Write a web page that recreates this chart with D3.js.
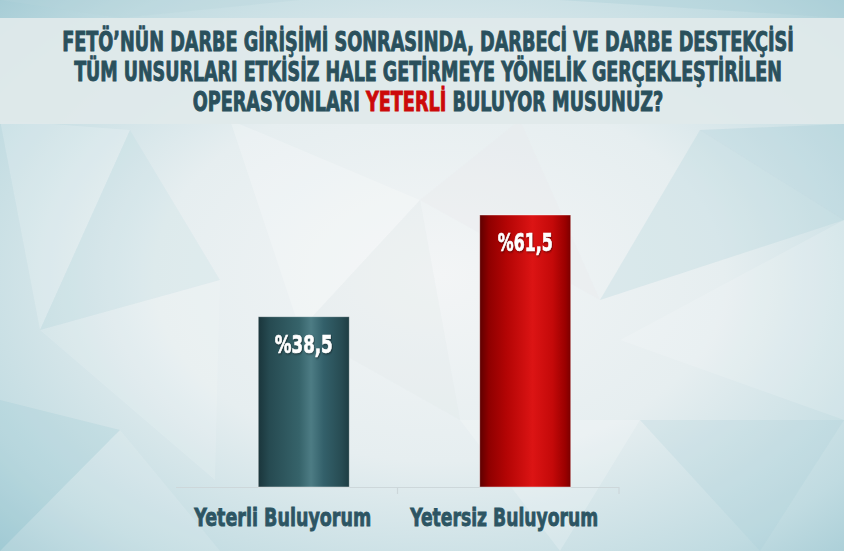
<!DOCTYPE html>
<html>
<head>
<meta charset="utf-8">
<script src="https://cdn.jsdelivr.net/npm/d3@7"></script>
<style>
  html, body { margin: 0; padding: 0; background: #dfe9ec; }
  svg { display: block; }
</style>
</head>
<body>
<svg id="chart" width="844" height="551"></svg>
<script>
// ---- data ----
const categories = ["Yeterli Buluyorum", "Yetersiz Buluyorum"];
const values = [38.5, 61.5];
const valueLabels = ["%38,5", "%61,5"];
const titleLines = [
  [{t: "FETÖ’NÜN DARBE GİRİŞİMİ SONRASINDA, DARBECİ VE DARBE DESTEKÇİSİ", red: false}],
  [{t: "TÜM UNSURLARI ETKİSİZ HALE GETİRMEYE YÖNELİK GERÇEKLEŞTİRİLEN", red: false}],
  [{t: "OPERASYONLARI ", red: false}, {t: "YETERLİ", red: true}, {t: " BULUYOR MUSUNUZ?", red: false}]
];

const W = 844, H = 551;
const svg = d3.select("#chart");
const defs = svg.append("defs");

// squeeze a text horizontally to a target width, centred on (cx, baseline)
function fitText(sel, cx, by, target) {
  const node = sel.node();
  sel.attr("x", 0).attr("y", 0).attr("text-anchor", "middle");
  const natural = node.getComputedTextLength();
  const sx = natural > 0 ? target / natural : 1;
  sel.attr("transform", `translate(${cx},${by}) scale(${sx},1)`);
}

// background gradient
const bg = defs.append("radialGradient").attr("id", "bg")
  .attr("cx", "0.52").attr("cy", "0.5").attr("r", "0.75");
bg.append("stop").attr("offset", "0").attr("stop-color", "#f3f5f6");
bg.append("stop").attr("offset", "0.45").attr("stop-color", "#e6eef0");
bg.append("stop").attr("offset", "0.8").attr("stop-color", "#c0dbe1");
bg.append("stop").attr("offset", "1").attr("stop-color", "#a0c9d3");
svg.append("rect").attr("width", W).attr("height", H).attr("fill", "url(#bg)");

// decorative low-poly facets (background only)
const facets = [
  {p: [[0,120],[130,130],[40,330]], c: "#ffffff", o: 0.18},
  {p: [[130,130],[220,280],[40,330]], c: "#9ccbd6", o: 0.12},
  {p: [[220,280],[215,480],[40,330]], c: "#ffffff", o: 0.12},
  {p: [[0,400],[120,430],[0,551]], c: "#8cc0cc", o: 0.18},
  {p: [[120,430],[220,551],[0,551]], c: "#ffffff", o: 0.12},
  {p: [[230,120],[420,200],[300,330]], c: "#ffffff", o: 0.22},
  {p: [[420,200],[520,120],[600,300]], c: "#e8e8ea", o: 0.3},
  {p: [[300,330],[420,200],[460,420]], c: "#dfe6e8", o: 0.25},
  {p: [[600,300],[700,130],[844,220]], c: "#a8cfd8", o: 0.25},
  {p: [[700,130],[844,124],[844,220]], c: "#9ac7d2", o: 0.25},
  {p: [[620,340],[844,220],[844,420]], c: "#ffffff", o: 0.15},
  {p: [[640,420],[844,420],[760,551]], c: "#a5ccd6", o: 0.2},
  {p: [[460,420],[640,420],[560,551]], c: "#ffffff", o: 0.2},
  {p: [[0,0],[300,0],[120,18]], c: "#b7d5dc", o: 0.3},
  {p: [[560,0],[844,0],[844,18]], c: "#a9cdd6", o: 0.35}
];
svg.append("g").selectAll("polygon").data(facets).join("polygon")
  .attr("points", d => d.p.map(q => q.join(",")).join(" "))
  .attr("fill", d => d.c).attr("opacity", d => d.o);

// title band
svg.append("rect").attr("x", 0).attr("y", 18).attr("width", W).attr("height", 106)
  .attr("fill", "#e0e9eb").attr("opacity", 0.93);

// title text
const titleFont = "'DejaVu Sans', sans-serif";
const titleWidths = [732, 708, 471];
const titleBase = [51, 81, 111];
const titleCX = 428;
const titleColor = "#2a505c";
titleLines.forEach((line, i) => {
  const t = svg.append("text")
    .attr("font-family", titleFont)
    .attr("font-weight", "bold")
    .attr("font-stretch", "condensed")
    .attr("font-size", 26)
    .attr("fill", titleColor)
    .attr("stroke", titleColor).attr("stroke-width", 0.9);
  line.forEach(seg => {
    t.append("tspan").text(seg.t)
      .attr("fill", seg.red ? "#cc0a0a" : titleColor)
      .attr("stroke", seg.red ? "#cc0a0a" : titleColor);
  });
  fitText(t, titleCX, titleBase[i], titleWidths[i]);
});

// scales
const x = d3.scaleBand().domain(categories).range([176, 619]).padding(0);
const y = d3.scaleLinear().domain([0, 61.5]).range([487, 215]);
const barW = 91;
const barShift = 17;

// bar gradients
const gradStops = [
  [[0, "#1a353b"], [0.12, "#264a51"], [0.45, "#36636a"], [0.58, "#4d7c84"], [0.72, "#33606a"], [0.92, "#274b52"], [1, "#1e3d43"]],
  [[0, "#5e0000"], [0.1, "#8f0000"], [0.3, "#b40505"], [0.58, "#dc1414"], [0.8, "#c40909"], [0.94, "#9a0000"], [1, "#7a0000"]]
];
gradStops.forEach((stops, i) => {
  const g = defs.append("linearGradient").attr("id", "bar" + i)
    .attr("x1", "0").attr("x2", "1").attr("y1", "0").attr("y2", "0");
  stops.forEach(s => g.append("stop").attr("offset", s[0]).attr("stop-color", s[1]));
});

// axis line + ticks
const axisG = svg.append("g");
axisG.append("line")
  .attr("x1", x.range()[0]).attr("x2", x.range()[1])
  .attr("y1", y(0) + 0.5).attr("y2", y(0) + 0.5)
  .attr("stroke", "#cdd7da").attr("stroke-width", 1.2);
const tickXs = categories.map(c => x(c) + x.bandwidth());
axisG.selectAll("line.tk").data(tickXs).join("line").attr("class", "tk")
  .attr("x1", d => d).attr("x2", d => d)
  .attr("y1", y(0)).attr("y2", y(0) + 7)
  .attr("stroke", "#cdd7da").attr("stroke-width", 1.2);

// bars
const data = categories.map((c, i) => ({c, v: values[i], lab: valueLabels[i], i}));
svg.append("g").selectAll("rect").data(data).join("rect")
  .attr("x", d => x(d.c) + x.bandwidth() / 2 - barW / 2 + barShift)
  .attr("y", d => y(d.v))
  .attr("width", barW)
  .attr("height", d => y(0) - y(d.v))
  .attr("fill", d => "url(#bar" + d.i + ")")
  .attr("stroke", "#ffffff").attr("stroke-opacity", 0.5).attr("stroke-width", 0.8);

// value labels
const labFont = "'DejaVu Sans', sans-serif";
const valG = svg.append("g");
data.forEach((d, i) => {
  const t = valG.append("text")
    .attr("font-family", labFont)
    .attr("font-weight", "bold")
    .attr("font-stretch", "condensed")
    .attr("font-size", 25)
    .attr("fill", "#ffffff")
    .attr("stroke", "#ffffff").attr("stroke-width", 0.7)
    .style("filter", "drop-shadow(1px 1px 1px rgba(0,0,0,0.45))")
    .text(d.lab);
  fitText(t, x(d.c) + x.bandwidth() / 2 + barShift, y(d.v) + 36, [58, 55][i]);
});

// category labels
const catG = svg.append("g");
categories.forEach((c, i) => {
  const t = catG.append("text")
    .attr("font-family", labFont)
    .attr("font-weight", "bold")
    .attr("font-stretch", "condensed")
    .attr("font-size", 25)
    .attr("fill", "#2d5563")
    .attr("stroke", "#2d5563").attr("stroke-width", 0.8)
    .text(c);
  fitText(t, x(c) + x.bandwidth() / 2 - 4, 526, [177, 188][i]);
});
</script>
</body>
</html>
